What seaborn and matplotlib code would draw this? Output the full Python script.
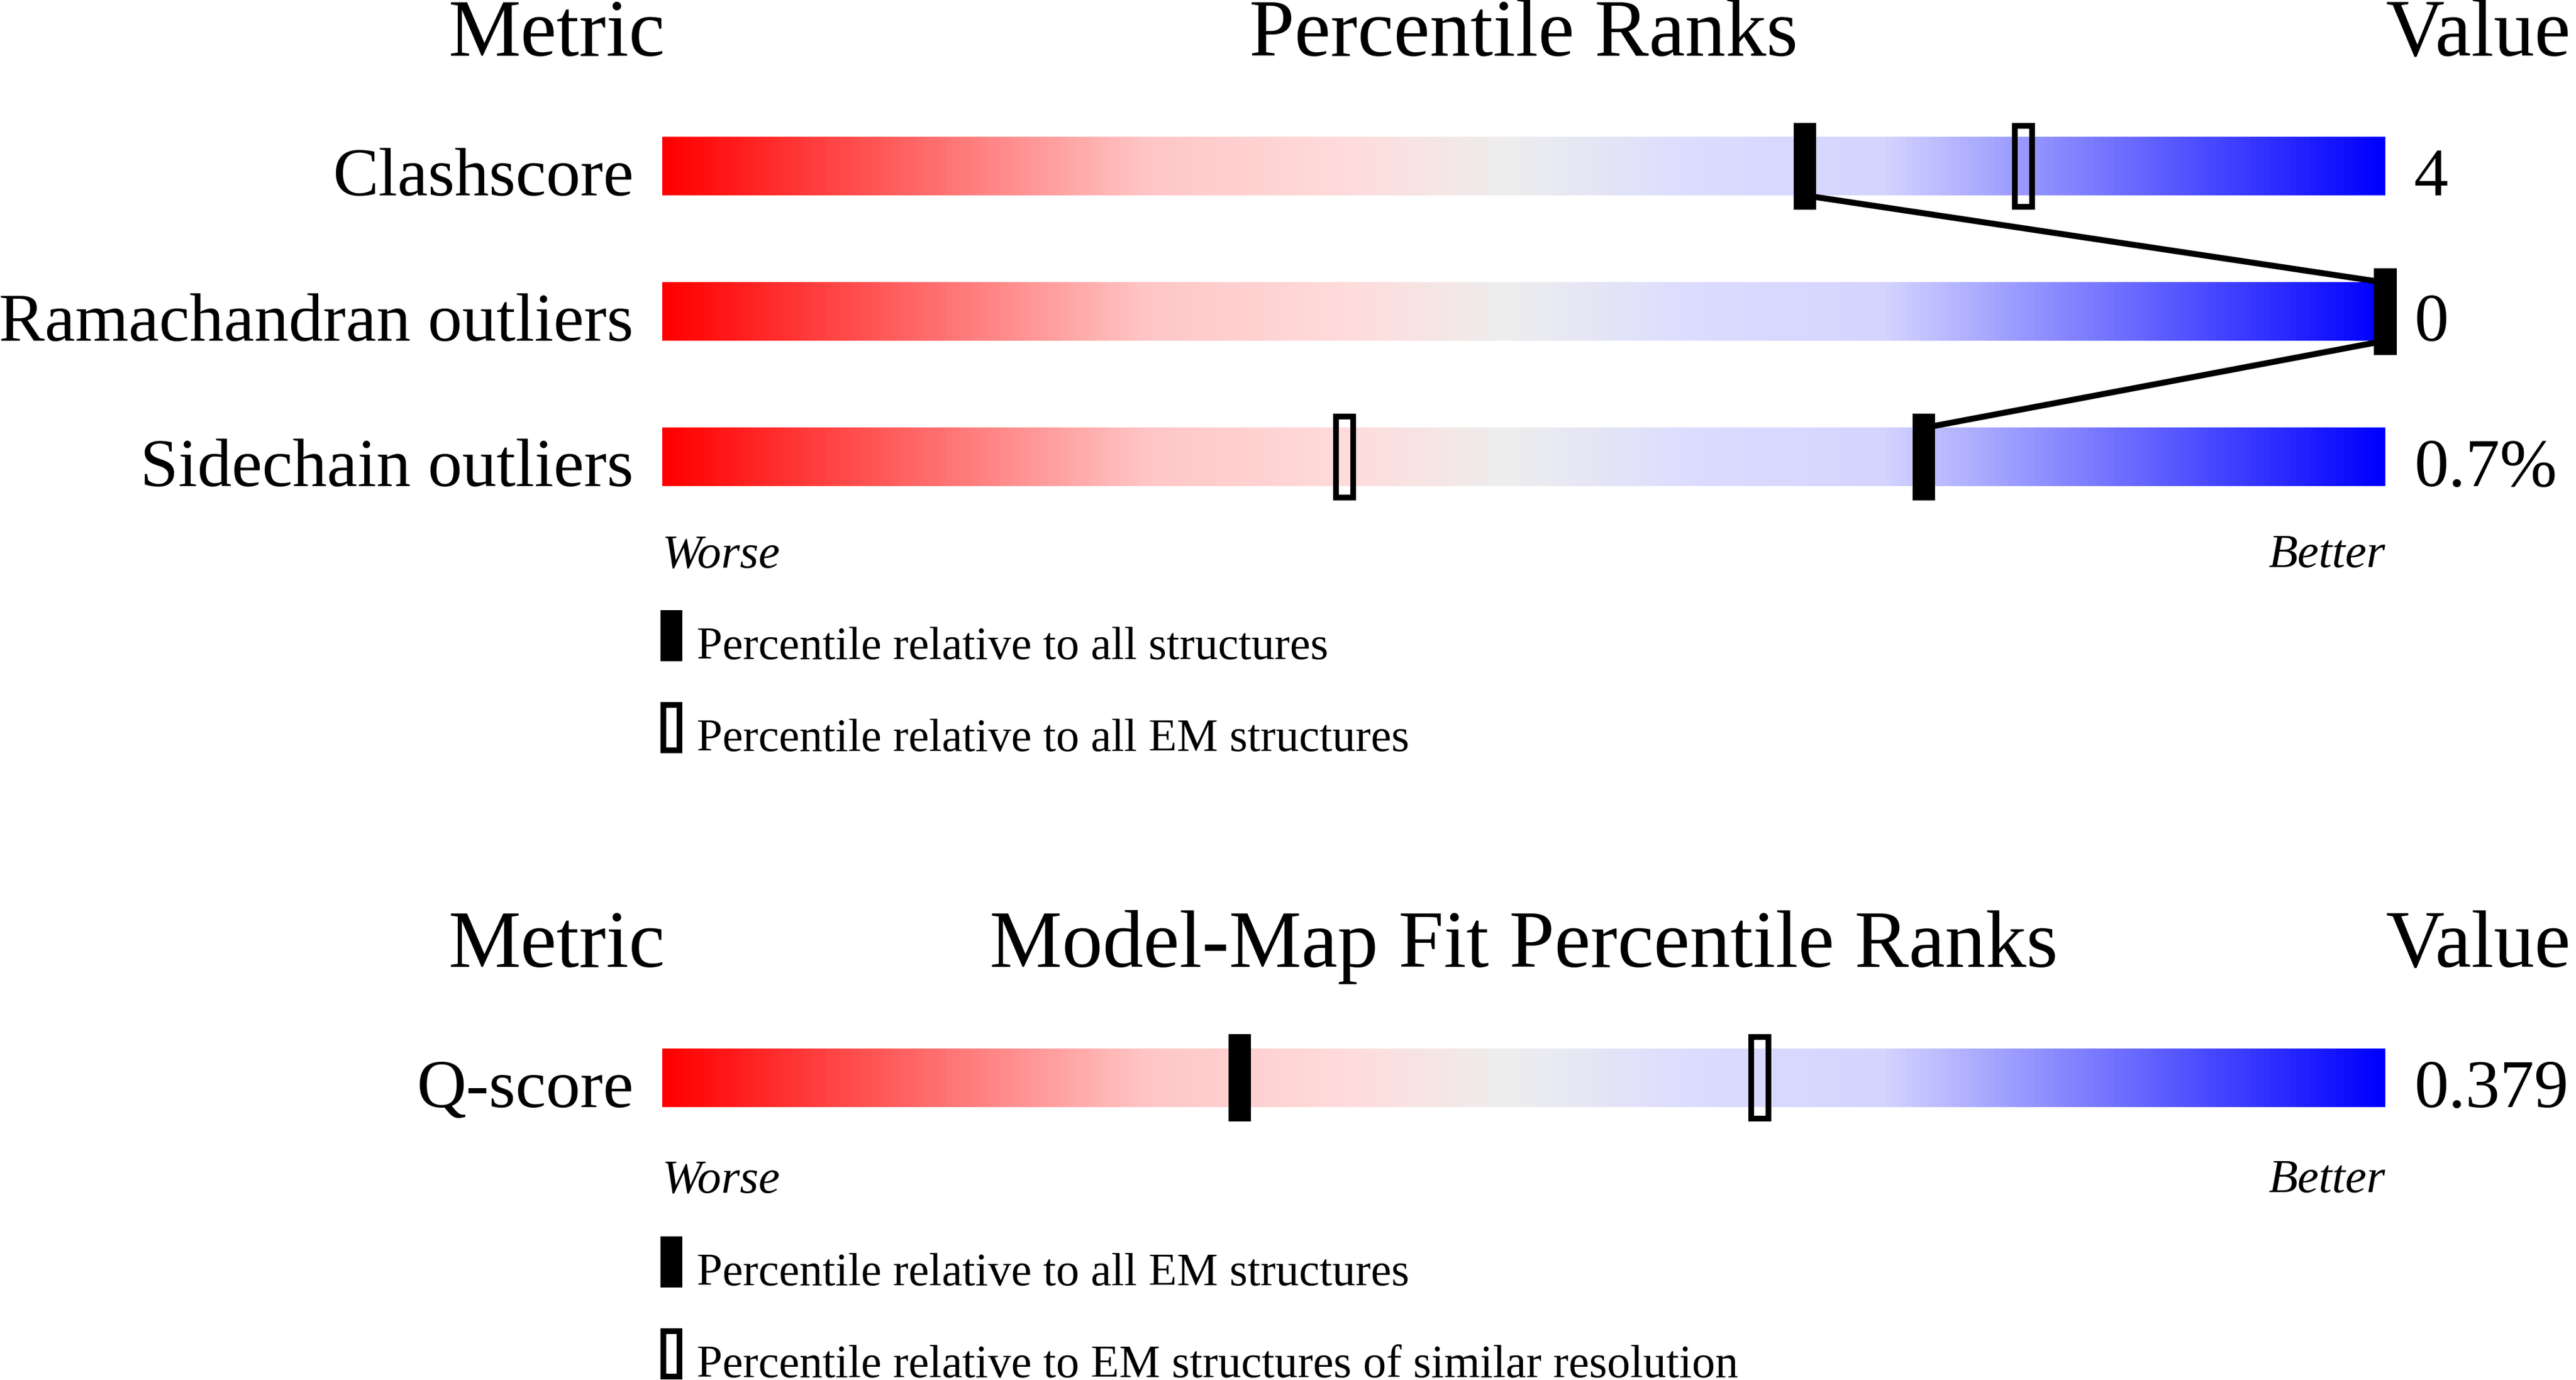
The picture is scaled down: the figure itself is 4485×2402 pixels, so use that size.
import numpy as np
import matplotlib
matplotlib.use("Agg")
import matplotlib.pyplot as plt
from matplotlib.colors import LinearSegmentedColormap
import seaborn as sns

# --- data ---
geom_metrics = ["Clashscore", "Ramachandran outliers", "Sidechain outliers"]
geom_values = ["4", "0", "0.7%"]
geom_pct_all = [66.3, 100, 73.2]    # percentile relative to all structures
geom_pct_em = [79.0, 100, 39.6]     # percentile relative to all EM structures

fit_metrics = ["Q-score"]
fit_values = ["0.379"]
fit_pct_all_em = [33.5]             # percentile relative to all EM structures
fit_pct_res = [63.7]                # relative to EM structures of similar resolution

geom_title = "Percentile Ranks"
fit_title = "Model-Map Fit Percentile Ranks"
geom_legend = ["Percentile relative to all structures",
               "Percentile relative to all EM structures"]
fit_legend = ["Percentile relative to all EM structures",
              "Percentile relative to EM structures of similar resolution"]

sns.set_theme(style="white")
plt.rcParams['font.family'] = ['Liberation Serif', 'DejaVu Serif']
plt.rcParams['text.color'] = 'black'

W, H, DPI = 4485, 2402, 100
fig = plt.figure(figsize=(W / DPI, H / DPI), dpi=DPI)

slider = LinearSegmentedColormap.from_list("slider", [
    (0.00, "#ff0000"), (0.28, "#ffc6c6"), (0.40, "#ffdcdc"),
    (0.49, "#eeeeee"), (0.60, "#dcdcff"), (0.71, "#d4d4ff"),
    (1.00, "#0000ff")])
grad = np.linspace(0, 1, 512).reshape(1, -1)

# x: percentile, 0 -> px 1153, 100 -> px 4153
XL = (-1153 / 30, (W - 1153) / 30)
ROW_PX = 253.0
BAR_H = 0.2
MK_H = 0.30
HDR_FS, LBL_FS, WB_FS, LEG_FS = 102, 86, 60, 58


def draw_panel(ax, title, metrics, values, pct_solid, pct_open, legend, y_worse, y_leg):
    rows = np.arange(len(metrics))
    for r in rows:
        ax.imshow(grad, cmap=slider, aspect="auto", extent=(0, 100, r + BAR_H, r - BAR_H),
                  interpolation="bilinear", zorder=1)
    # connector through the solid markers
    if len(metrics) > 1:
        xs, ys = [], []
        for i in range(len(metrics) - 1):
            xs += [pct_solid[i], pct_solid[i + 1]]
            ys += [rows[i] + BAR_H, rows[i + 1] - BAR_H]
        sns.lineplot(x=xs, y=ys, sort=False, estimator=None, color="black",
                     linewidth=7.5, ax=ax, zorder=2, legend=False)
    ax.bar(pct_open, height=2 * 0.28, bottom=rows - 0.28, width=0.97,
           facecolor="none", edgecolor="black", linewidth=7.2, zorder=3)
    ax.bar(pct_solid, height=2 * MK_H, bottom=rows - MK_H, width=1.3,
           color="black", linewidth=0, zorder=4)

    # headers
    hy = -0.761
    ax.text(-6.1, hy, "Metric", ha="center", va="baseline", fontsize=HDR_FS)
    ax.text(50, hy, title, ha="center", va="baseline", fontsize=HDR_FS)
    ax.text(100, hy, "Value", ha="left", va="baseline", fontsize=HDR_FS)
    for r, m, v in zip(rows, metrics, values):
        ax.text(-1.67, r + 0.2, m, ha="right", va="baseline", fontsize=LBL_FS)
        ax.text(101.67, r + 0.2, v, ha="left", va="baseline", fontsize=LBL_FS)

    ax.text(0, y_worse, "Worse", ha="left", va="baseline", fontsize=WB_FS, style="italic")
    ax.text(100, y_worse, "Better", ha="right", va="baseline", fontsize=WB_FS, style="italic")

    # legend swatches
    lh = 89 / ROW_PX
    for k, (lab, filled) in enumerate(zip(legend, [True, False])):
        top = y_leg + k * 160 / ROW_PX
        if filled:
            ax.bar([0.53], height=lh, bottom=top, width=1.27, color="black", linewidth=0)
        else:
            ax.bar([0.53], height=lh - 10 / ROW_PX, bottom=top + 5 / ROW_PX, width=0.95,
                   facecolor="none", edgecolor="black", linewidth=7.2)
        ax.text(2.0, top + 85 / ROW_PX, lab, ha="left", va="baseline", fontsize=LEG_FS)

    ax.set_xlim(*XL)
    ax.set_axis_off()


# panel 1: figure px 0..1400, first row centre at px 289.5
split = 1400
ax1 = fig.add_axes([0, 1 - split / H, 1, split / H])
draw_panel(ax1, geom_title, geom_metrics, geom_values, geom_pct_all, geom_pct_em,
           geom_legend, y_worse=2.757, y_leg=3.054)
ax1.set_ylim((split - 289.5) / ROW_PX, -289.5 / ROW_PX)

# panel 2: figure px 1400..2402, row centre at px 1876
ax2 = fig.add_axes([0, 0, 1, (H - split) / H])
draw_panel(ax2, fit_title, fit_metrics, fit_values, fit_pct_all_em, fit_pct_res,
           fit_legend, y_worse=0.787, y_leg=1.091)
ax2.set_ylim((H - 1876) / ROW_PX, (split - 1876) / ROW_PX)

fig.savefig("out.png", dpi=DPI, facecolor="white")
